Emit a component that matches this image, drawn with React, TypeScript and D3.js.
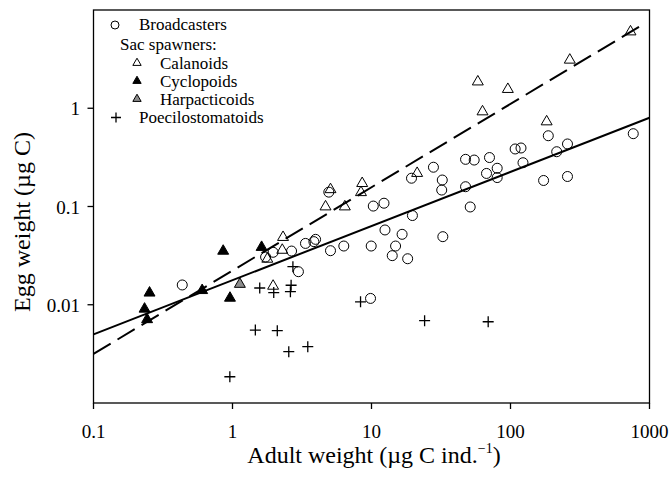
import React from 'react';
import * as d3 from 'd3';

// values (adult weight, egg weight; both in ug C)
const broadcastersX = [0.435, 1.73, 1.96, 2.66, 2.98, 3.35, 3.85, 3.96, 5.07, 6.32, 9.95, 10.3, 12.3, 12.5, 14.1, 14.9, 16.6, 18.2, 32.6, 9.84, 4.93, 19.4, 19.7, 27.9, 32.3, 32.0, 47.5, 54.8, 70.6, 67.2, 80.2, 80.2, 47.5, 51.3, 108, 119, 123, 187, 215, 257, 173, 257, 764];
const broadcastersY = [0.0159, 0.0306, 0.0342, 0.0352, 0.0217, 0.0421, 0.0439, 0.0463, 0.0355, 0.0396, 0.0396, 0.101, 0.108, 0.0577, 0.0316, 0.0396, 0.0521, 0.0294, 0.0493, 0.0116, 0.14, 0.194, 0.0809, 0.251, 0.186, 0.147, 0.302, 0.297, 0.315, 0.217, 0.245, 0.197, 0.159, 0.0989, 0.385, 0.394, 0.279, 0.525, 0.361, 0.433, 0.184, 0.202, 0.551];

const calanoidsX = [1.78, 1.96, 2.28, 2.31, 4.67, 5.07, 6.43, 8.57, 8.4, 21.3, 58.2, 95.7, 62.9, 182, 267, 730];
const calanoidsY = [0.0292, 0.0155, 0.036, 0.0486, 0.0995, 0.149, 0.0995, 0.172, 0.139, 0.218, 1.86, 1.56, 0.923, 0.73, 3.1, 6.01];

const cyclopoidsX = [0.233, 0.243, 0.253, 0.605, 0.857, 0.959, 1.62];
const cyclopoidsY = [0.00906, 0.00708, 0.0132, 0.014, 0.0352, 0.0117, 0.0385];

const harpacticoidsX = [1.13];
const harpacticoidsY = [0.0162];

const poecilosX = [2.72, 1.57, 1.98, 2.64, 2.61, 1.46, 2.1, 2.54, 3.48, 0.957, 8.34, 24.1, 69.1];
const poecilosY = [0.0244, 0.0148, 0.0133, 0.0158, 0.0136, 0.00553, 0.00545, 0.00333, 0.00374, 0.00185, 0.0107, 0.00689, 0.00671];

// regression line end points
const broadcastFitX = [0.1, 1000];
const broadcastFitY = [0.005, 0.8];
const sacFitX = [0.1, 880];
const sacFitY = [0.00316, 7.0];

const xTicks = [0.1, 1, 10, 100, 1000];
const xTickLabels = ['0.1', '1', '10', '100', '1000'];
const yTicks = [0.01, 0.1, 1];
const yTickLabels = ['0.01', '0.1', '1'];

const font = '"Liberation Serif", "Times New Roman", serif';

const left = 93.5;
const right = 649.5;
const top = 10;
const bottom = 403;

const zip = (xs: number[], ys: number[]) => xs.map((v, i) => [v, ys[i]] as [number, number]);

export default function App() {
  const x = d3.scaleLog().domain([0.1, 1000]).range([left, right]);
  const y = d3.scaleLog().domain([0.001, 10]).range([bottom, top]);

  const line = d3.line<[number, number]>().x(d => x(d[0])).y(d => y(d[1]));
  const tri = d3.symbol().type(d3.symbolTriangle).size(52)() as string;
  const triSmall = d3.symbol().type(d3.symbolTriangle).size(30)() as string;

  const plus = (cx: number, cy: number, r: number, key: string) => (
    <path key={key} d={`M${cx - r},${cy}H${cx + r}M${cx},${cy - r}V${cy + r}`} stroke="#000" strokeWidth={1.3} fill="none" />
  );

  return (
    <svg width={671} height={479} style={{ position: 'absolute', left: 0, top: 0, background: '#fff' }} fontFamily={font}>
      <rect x={0} y={0} width={671} height={479} fill="#fff" />

      {/* fit lines */}
      <path d={line(zip(broadcastFitX, broadcastFitY)) || ''} stroke="#000" strokeWidth={2} fill="none" />
      <path d={line(zip(sacFitX, sacFitY)) || ''} stroke="#000" strokeWidth={2} fill="none" strokeDasharray="20,8" />

      {/* points */}
      {zip(broadcastersX, broadcastersY).map((d, i) => (
        <circle key={'b' + i} cx={x(d[0])} cy={y(d[1])} r={5} fill="none" stroke="#000" strokeWidth={1} />
      ))}
      {zip(calanoidsX, calanoidsY).map((d, i) => (
        <path key={'c' + i} d={tri} transform={`translate(${x(d[0])},${y(d[1])})`} fill="none" stroke="#000" strokeWidth={1} />
      ))}
      {zip(cyclopoidsX, cyclopoidsY).map((d, i) => (
        <path key={'y' + i} d={tri} transform={`translate(${x(d[0])},${y(d[1])})`} fill="#000" stroke="#000" strokeWidth={1} />
      ))}
      {zip(harpacticoidsX, harpacticoidsY).map((d, i) => (
        <path key={'h' + i} d={tri} transform={`translate(${x(d[0])},${y(d[1])})`} fill="#8c8c8c" stroke="#000" strokeWidth={1} />
      ))}
      {zip(poecilosX, poecilosY).map((d, i) => plus(x(d[0]), y(d[1]), 5.5, 'p' + i))}

      {/* frame */}
      <rect x={left} y={top} width={right - left} height={bottom - top} fill="none" stroke="#000" strokeWidth={1.3} />

      {/* x axis */}
      {xTicks.map((t, i) => (
        <g key={'xt' + i}>
          <line x1={x(t)} x2={x(t)} y1={bottom} y2={bottom + 6} stroke="#000" strokeWidth={1.3} />
          <text x={x(t)} y={438} textAnchor="middle" fontSize={19}>{xTickLabels[i]}</text>
        </g>
      ))}
      <text x={374} y={463} textAnchor="middle" fontSize={24}>
        Adult weight (µg C ind.<tspan fontSize={14} dy={-10}>−1</tspan><tspan dy={10}>)</tspan>
      </text>

      {/* y axis */}
      {yTicks.map((t, i) => (
        <g key={'yt' + i}>
          <line x1={left - 6} x2={left} y1={y(t)} y2={y(t)} stroke="#000" strokeWidth={1.3} />
          <text x={80} y={y(t) + 7} textAnchor="end" fontSize={19}>{yTickLabels[i]}</text>
        </g>
      ))}
      <text transform="translate(30,222) rotate(-90)" textAnchor="middle" fontSize={24}>Egg weight (µg C)</text>

      {/* legend */}
      <g fontSize={17}>
        <circle cx={115} cy={25} r={4} fill="none" stroke="#000" strokeWidth={1} />
        <text x={139} y={30}>Broadcasters</text>
        <text x={120} y={50}>Sac spawners:</text>
        <path d={triSmall} transform="translate(137,63)" fill="none" stroke="#000" strokeWidth={1} />
        <text x={160} y={68.5}>Calanoids</text>
        <path d={triSmall} transform="translate(137,81)" fill="#000" stroke="#000" strokeWidth={1} />
        <text x={160} y={86.5}>Cyclopoids</text>
        <path d={triSmall} transform="translate(137,99)" fill="#8c8c8c" stroke="#000" strokeWidth={1} />
        <text x={160} y={104.5}>Harpacticoids</text>
        {plus(116, 117.5, 5, 'lp')}
        <text x={139} y={122.5}>Poecilostomatoids</text>
      </g>
    </svg>
  );
}
